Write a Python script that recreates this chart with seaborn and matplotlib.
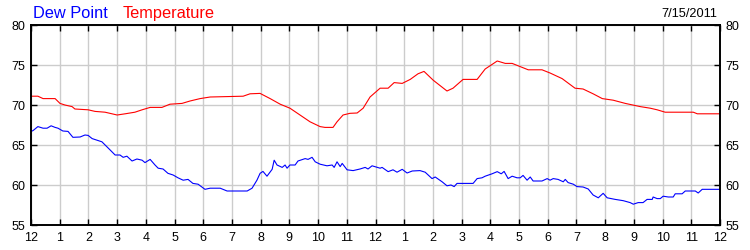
import matplotlib
matplotlib.use("Agg")
import matplotlib.pyplot as plt
import seaborn as sns
import pandas as pd

# ---- data (hours since midnight, degrees F) ----
temp_hours = [0.00, 0.24, 0.42, 0.84, 1.01, 1.18, 1.43, 1.53, 1.99, 2.23, 2.58, 3.00,
              3.28, 3.62, 3.87, 4.15, 4.56, 4.84, 5.26, 5.54, 5.89, 6.24, 7.39, 7.63,
              7.98, 8.33, 8.68, 9.02, 9.37, 9.72, 10.07, 10.24, 10.52, 10.66, 10.87,
              11.11, 11.36, 11.57, 11.81, 12.16, 12.44, 12.65, 12.93, 13.21, 13.48,
              13.69, 14.01, 14.49, 14.70, 15.05, 15.54, 15.82, 16.24, 16.52, 16.76,
              16.97, 17.32, 17.80, 18.08, 18.50, 18.95, 19.23, 19.58, 19.90, 20.28,
              20.70, 21.22, 21.57, 21.81, 22.09, 23.07, 23.21, 24.00]
temp_values = [71.1, 71.1, 70.8, 70.8, 70.2, 70.0, 69.8, 69.5, 69.4, 69.2, 69.1, 68.75,
               68.9, 69.1, 69.4, 69.7, 69.7, 70.1, 70.2, 70.5, 70.8, 71.0, 71.1, 71.4,
               71.45, 70.8, 70.1, 69.6, 68.75, 67.9, 67.3, 67.2, 67.2, 67.9, 68.75,
               68.96, 69.0, 69.6, 71.0, 72.1, 72.1, 72.8, 72.7, 73.2, 73.9,
               74.2, 73.1, 71.75, 72.1, 73.2, 73.2, 74.5, 75.5, 75.2, 75.2,
               74.9, 74.4, 74.4, 74.0, 73.3, 72.1, 72.0, 71.4, 70.8, 70.6,
               70.2, 69.8, 69.6, 69.4, 69.1, 69.1, 68.9, 68.9]

dew_hours = [0.00, 0.07, 0.24, 0.42, 0.56, 0.70, 0.84, 0.94, 1.11, 1.29, 1.46, 1.71,
             1.88, 1.99, 2.13, 2.30, 2.47, 2.58, 2.75, 2.93, 3.10, 3.21, 3.34, 3.52,
             3.69, 3.87, 3.97, 4.15, 4.32, 4.43, 4.60, 4.77, 4.95, 5.12, 5.30, 5.47,
             5.64, 5.82, 6.06, 6.24, 6.59, 6.83, 7.53, 7.70, 7.87, 7.98, 8.08, 8.22,
             8.40, 8.47, 8.57, 8.75, 8.85, 8.92, 9.02, 9.20, 9.30, 9.55, 9.65, 9.79,
             9.90, 10.07, 10.31, 10.49, 10.56, 10.66, 10.77, 10.84, 11.01, 11.22,
             11.46, 11.64, 11.74, 11.88, 12.16, 12.23, 12.44, 12.61, 12.75, 12.93,
             13.10, 13.28, 13.55, 13.73, 13.97, 14.08, 14.32, 14.49, 14.63, 14.74,
             14.84, 15.40, 15.54, 15.71, 15.82, 16.06, 16.24, 16.38, 16.48, 16.62,
             16.76, 16.93, 17.04, 17.14, 17.28, 17.39, 17.49, 17.80, 17.98, 18.08,
             18.19, 18.36, 18.54, 18.61, 18.71, 18.89, 19.02, 19.23, 19.41, 19.58,
             19.76, 19.93, 20.07, 20.35, 20.63, 20.87, 20.98, 21.15, 21.32, 21.46,
             21.64, 21.67, 21.81, 21.92, 22.02, 22.20, 22.37, 22.44, 22.68, 22.79,
             23.14, 23.24, 23.38, 24.00]
dew_values = [66.7, 66.8, 67.3, 67.1, 67.1, 67.4, 67.2, 67.1, 66.75, 66.7, 65.96, 66.0,
              66.25, 66.2, 65.8, 65.6, 65.4, 65.0, 64.4, 63.75, 63.75, 63.46, 63.6, 63.0,
              63.25, 63.1, 62.8, 63.2, 62.5, 62.1, 62.0, 61.46, 61.25, 60.9, 60.6, 60.7,
              60.2, 60.1, 59.46, 59.6, 59.6, 59.25, 59.25, 59.6, 60.6, 61.46, 61.7, 61.1,
              61.96, 63.1, 62.5, 62.2, 62.5, 62.1, 62.5, 62.5, 63.0, 63.3, 63.2, 63.46,
              62.9, 62.6, 62.4, 62.5, 62.2, 62.9, 62.3, 62.7, 61.9, 61.8,
              62.0, 62.2, 62.0, 62.4, 62.1, 62.2, 61.67, 61.9, 61.6, 61.96,
              61.5, 61.75, 61.8, 61.6, 60.8, 61.0, 60.4, 59.9, 60.0, 59.8,
              60.2, 60.2, 60.8, 60.9, 61.1, 61.4, 61.67, 61.4, 61.7, 60.8,
              61.1, 60.9, 60.9, 61.2, 60.6, 61.0, 60.5, 60.5, 60.8, 60.6,
              60.8, 60.7, 60.4, 60.7, 60.3, 60.1, 59.8, 59.75, 59.5, 58.75,
              58.4, 58.96, 58.4, 58.2, 58.04, 57.8, 57.6, 57.8, 57.8, 58.2,
              58.2, 58.5, 58.3, 58.3, 58.6, 58.5, 58.5, 58.9, 58.9, 59.25,
              59.25, 59.0, 59.46, 59.46]

x_ticks = list(range(0, 25))
x_labels = ["12", "1", "2", "3", "4", "5", "6", "7", "8", "9", "10", "11",
            "12", "1", "2", "3", "4", "5", "6", "7", "8", "9", "10", "11", "12"]
y_ticks = [55, 60, 65, 70, 75, 80]
date_label = "7/15/2011"
series_names = ["Dew Point", "Temperature"]
series_colors = ["#0000ff", "#ff0000"]

# ---- plotting ----
sns.set_style("white")
plt.rcParams["font.family"] = ["Liberation Sans", "DejaVu Sans"]

fig = plt.figure(figsize=(7.5, 2.5), dpi=100)
ax = fig.add_axes([31 / 750, 25 / 250, 689 / 750, 200 / 250])

dew_df = pd.DataFrame({"hour": dew_hours, "value": dew_values})
temp_df = pd.DataFrame({"hour": temp_hours, "value": temp_values})
sns.lineplot(data=dew_df, x="hour", y="value", ax=ax, color=series_colors[0],
             linewidth=0.8, sort=False)
sns.lineplot(data=temp_df, x="hour", y="value", ax=ax, color=series_colors[1],
             linewidth=0.8, sort=False)

ax.set_xlim(0, 24)
ax.set_ylim(55, 80)
ax.set_xticks(x_ticks)
ax.set_xticklabels(x_labels)
ax.set_yticks(y_ticks)
ax.set_xlabel("")
ax.set_ylabel("")
ax.grid(True, color="#cccccc", linewidth=1.0)
ax.set_axisbelow(True)
for s in ax.spines.values():
    s.set_color("black")
    s.set_linewidth(1.4)
ax.tick_params(axis="both", which="both", direction="in", length=4, width=1,
               colors="black", labelsize=9, top=True, bottom=True, left=True,
               right=True, labelright=True, labelleft=True)
ax.tick_params(axis="x", pad=5)
ax.tick_params(axis="y", pad=4)

fig.text(33 / 750, 1 - 18 / 250, series_names[0], color=series_colors[0],
         fontsize=11.8, va="baseline", ha="left")
fig.text(123 / 750, 1 - 18 / 250, series_names[1], color=series_colors[1],
         fontsize=11.8, va="baseline", ha="left")
fig.text(717 / 750, 1 - 17 / 250, date_label, color="black",
         fontsize=9.2, va="baseline", ha="right")

fig.savefig("out.png", dpi=100, facecolor="white")
